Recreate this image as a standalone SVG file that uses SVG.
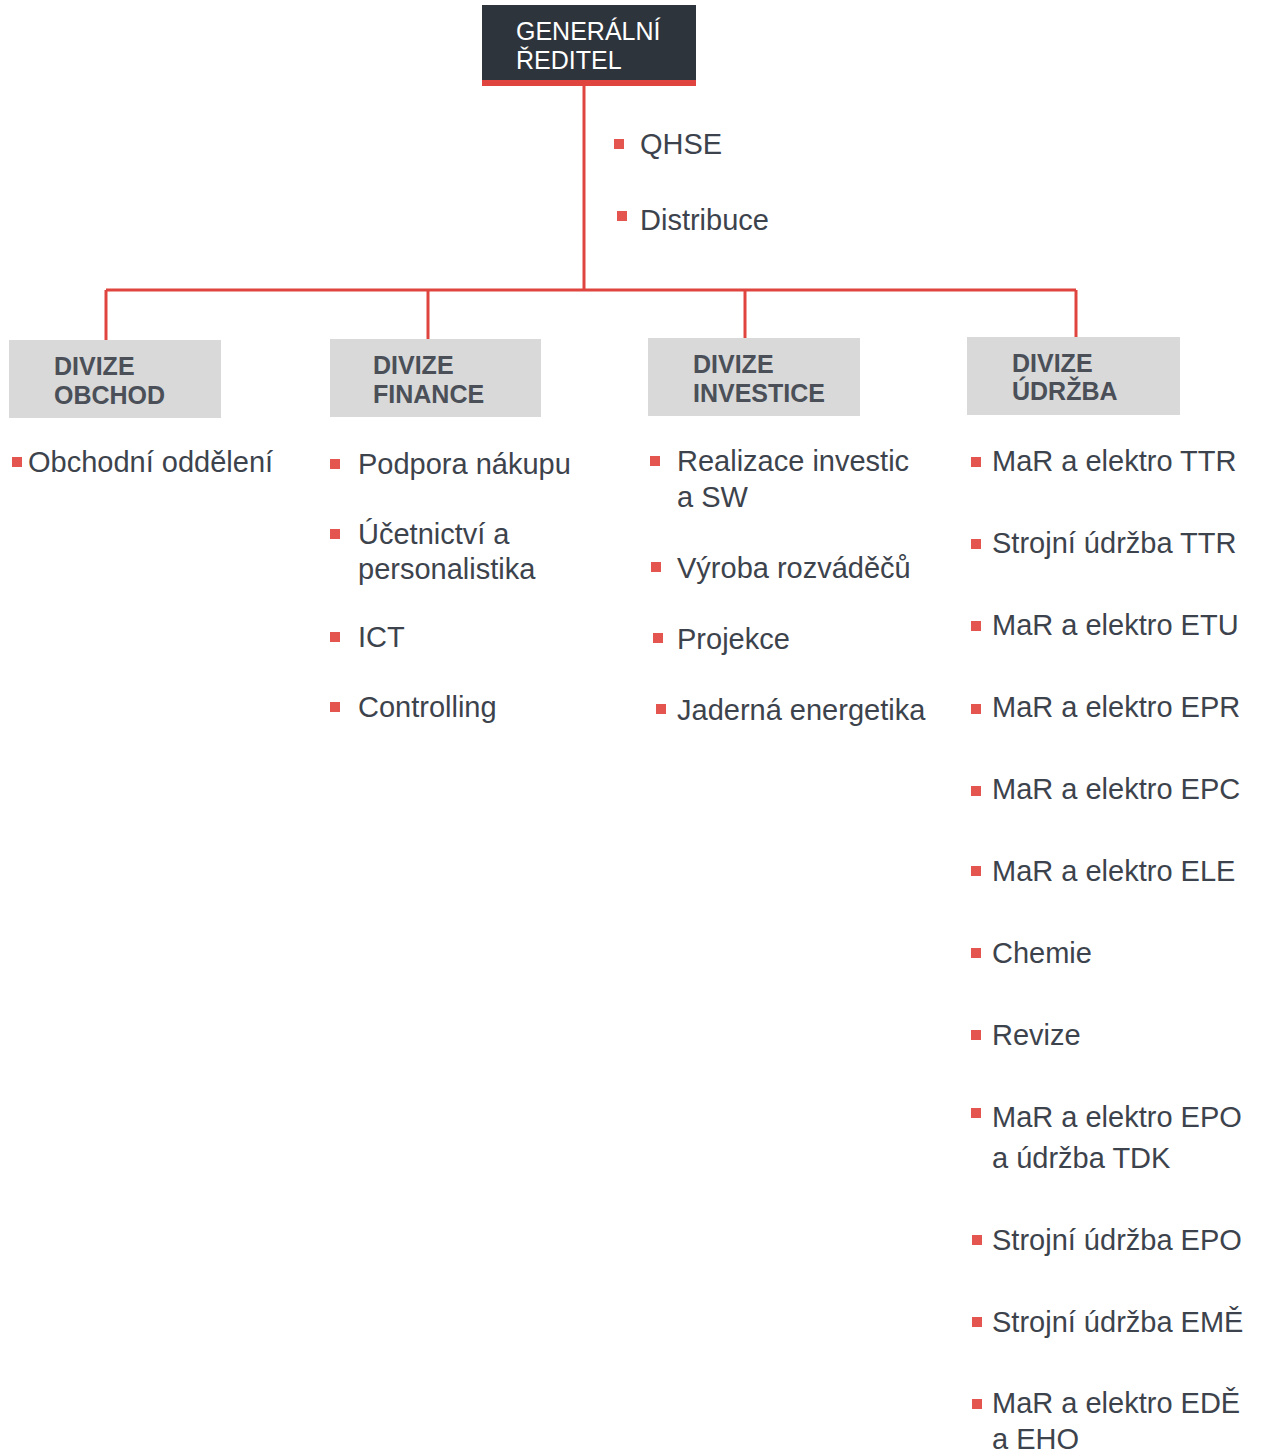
<svg xmlns="http://www.w3.org/2000/svg" width="1263" height="1456" viewBox="0 0 1263 1456">
<style>
.bg{fill:#ffffff}
.ln{stroke:#e0443e;stroke-width:3;fill:none}
.div rect{fill:#d9d9d9}
.dt{font-family:"Liberation Sans",Arial,sans-serif;font-weight:bold;font-size:25px;fill:#4a4f58}
.it{font-family:"Liberation Sans",Arial,sans-serif;font-size:29px;fill:#3d434c}
.bu{fill:#e5554f}
.gt{font-family:"Liberation Sans",Arial,sans-serif;font-size:25px;fill:#ffffff}
</style>
<rect class="bg" x="0" y="0" width="1263" height="1456"/>
<g id="connectors">
<path class="ln" d="M584,86 V290"/>
<path class="ln" d="M106,290 H1076"/>
<path class="ln" d="M106,290 V340"/>
<path class="ln" d="M428,290 V339"/>
<path class="ln" d="M745,290 V338"/>
<path class="ln" d="M1076,290 V337"/>
</g>
<g id="gr">
<rect x="482" y="5" width="214" height="81" fill="#2e343c"/>
<rect x="482" y="80" width="214" height="6" fill="#e0443e"/>
<text class="gt" x="516" y="40">GENERÁLNÍ</text>
<text class="gt" x="516" y="69">ŘEDITEL</text>
</g>
<g id="gr-items">
<rect class="bu" x="614" y="139" width="10" height="10"/>
<text class="it" x="640" y="154">QHSE</text>
<rect class="bu" x="617" y="211" width="10" height="10"/>
<text class="it" x="640" y="230">Distribuce</text>
</g>
<g id="div-obchod" class="div">
<rect x="9" y="340" width="212" height="78"/>
<text class="dt" x="54" y="375">DIVIZE</text>
<text class="dt" x="54" y="404">OBCHOD</text>
</g>
<g id="div-finance" class="div">
<rect x="330" y="339" width="211" height="78"/>
<text class="dt" x="373" y="374">DIVIZE</text>
<text class="dt" x="373" y="403">FINANCE</text>
</g>
<g id="div-investice" class="div">
<rect x="648" y="338" width="212" height="78"/>
<text class="dt" x="693" y="373">DIVIZE</text>
<text class="dt" x="693" y="402">INVESTICE</text>
</g>
<g id="div-udrzba" class="div">
<rect x="967" y="337" width="213" height="78"/>
<text class="dt" x="1012" y="372">DIVIZE</text>
<text class="dt" x="1012" y="400">ÚDRŽBA</text>
</g>
<g id="items-obchod">
<rect class="bu" x="12" y="457" width="10" height="10"/>
<text class="it" x="28" y="472">Obchodní oddělení</text>
</g>
<g id="items-finance">
<rect class="bu" x="330" y="459" width="10" height="10"/>
<text class="it" x="358" y="474">Podpora nákupu</text>
<rect class="bu" x="330" y="529" width="10" height="10"/>
<text class="it" x="358" y="544">Účetnictví a</text>
<text class="it" x="358" y="579">personalistika</text>
<rect class="bu" x="330" y="632" width="10" height="10"/>
<text class="it" x="358" y="647">ICT</text>
<rect class="bu" x="330" y="702" width="10" height="10"/>
<text class="it" x="358" y="717">Controlling</text>
</g>
<g id="items-investice">
<rect class="bu" x="650" y="456" width="10" height="10"/>
<text class="it" x="677" y="471">Realizace investic</text>
<text class="it" x="677" y="507">a SW</text>
<rect class="bu" x="651" y="562" width="10" height="10"/>
<text class="it" x="677" y="578">Výroba rozváděčů</text>
<rect class="bu" x="653" y="633" width="10" height="10"/>
<text class="it" x="677" y="649">Projekce</text>
<rect class="bu" x="656" y="704" width="10" height="10"/>
<text class="it" x="677" y="720">Jaderná energetika</text>
</g>
<g id="items-udrzba">
<rect class="bu" x="971" y="457" width="10" height="10"/>
<text class="it" x="992" y="471">MaR a elektro TTR</text>
<rect class="bu" x="971" y="539" width="10" height="10"/>
<text class="it" x="992" y="553">Strojní údržba TTR</text>
<rect class="bu" x="971" y="621" width="10" height="10"/>
<text class="it" x="992" y="635">MaR a elektro ETU</text>
<rect class="bu" x="971" y="704" width="10" height="10"/>
<text class="it" x="992" y="717">MaR a elektro EPR</text>
<rect class="bu" x="971" y="786" width="10" height="10"/>
<text class="it" x="992" y="799">MaR a elektro EPC</text>
<rect class="bu" x="971" y="866" width="10" height="10"/>
<text class="it" x="992" y="881">MaR a elektro ELE</text>
<rect class="bu" x="971" y="948" width="10" height="10"/>
<text class="it" x="992" y="963">Chemie</text>
<rect class="bu" x="971" y="1030" width="10" height="10"/>
<text class="it" x="992" y="1045">Revize</text>
<rect class="bu" x="971" y="1108" width="10" height="10"/>
<text class="it" x="992" y="1127">MaR a elektro EPO</text>
<text class="it" x="992" y="1168">a údržba TDK</text>
<rect class="bu" x="972" y="1235" width="10" height="10"/>
<text class="it" x="992" y="1250">Strojní údržba EPO</text>
<rect class="bu" x="972" y="1317" width="10" height="10"/>
<text class="it" x="992" y="1332">Strojní údržba EMĚ</text>
<rect class="bu" x="972" y="1399" width="10" height="10"/>
<text class="it" x="992" y="1413">MaR a elektro EDĚ</text>
<text class="it" x="992" y="1449">a EHO</text>
</g>
</svg>
